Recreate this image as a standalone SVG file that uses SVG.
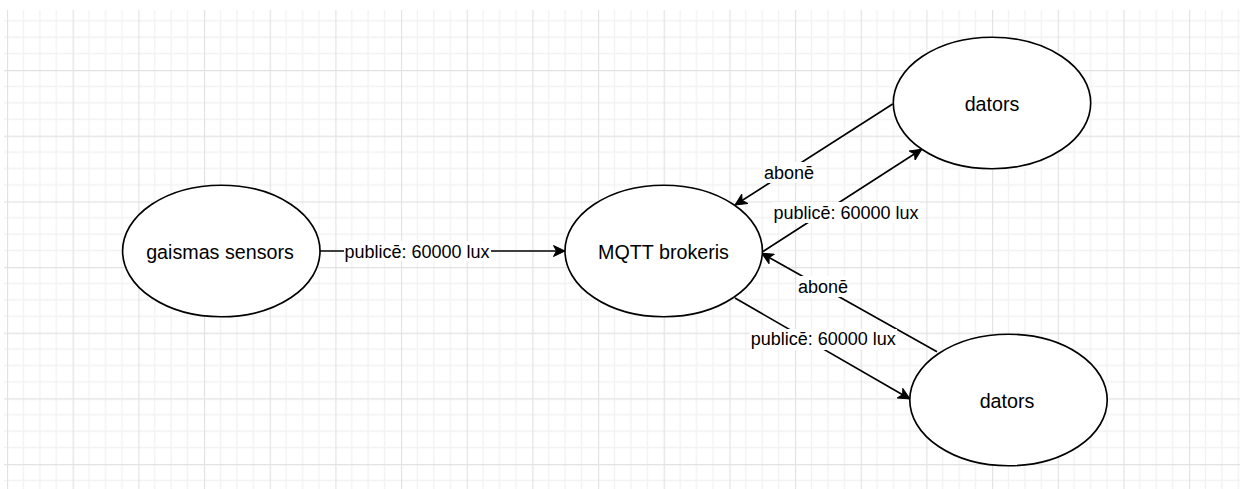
<svg xmlns="http://www.w3.org/2000/svg" width="1240" height="489" viewBox="0 0 1240 489">
  <defs>
    <!-- background grid: minor cells of 16.42px, a major line every 4 cells -->
    <pattern id="grid" patternUnits="userSpaceOnUse" x="7" y="4.33" width="65.67" height="65.67">
      <path d="M16.42 0V65.67M32.83 0V65.67M49.25 0V65.67M0 16.42H65.67M0 32.83H65.67M0 49.25H65.67" stroke="#f2f2f2" stroke-width="1.3" fill="none"/>
      <path d="M0.5 0V65.67M0 0.5H65.67" stroke="#e2e2e2" stroke-width="1.3" fill="none"/>
    </pattern>
    <marker id="arrow" markerUnits="userSpaceOnUse" viewBox="-12 -6 13 12" refX="0" refY="0" markerWidth="13" markerHeight="12" orient="auto">
      <path d="M0 0L-11.5 -5.5L-8.5 0L-11.5 5.5Z" fill="#000" stroke="#000" stroke-width="1"/>
    </marker>
  </defs>
  <style>
    .node ellipse { fill: #fff; stroke: #000; stroke-width: 1.64; }
    .node text { font-family: "Liberation Sans", Arial, sans-serif; font-size: 19.7px; fill: #000; text-anchor: middle; dominant-baseline: central; }
    .edge line { stroke: #000; stroke-width: 1.64; fill: none; }
    .edge .head { marker-end: url(#arrow); }
    .label rect { fill: #fff; }
    .label text { font-family: "Liberation Sans", Arial, sans-serif; font-size: 18px; fill: #000; text-anchor: middle; dominant-baseline: central; }
  </style>

  <rect x="0" y="0" width="1240" height="489" fill="#fff"/>
  <rect x="4" y="10" width="1236" height="479" fill="url(#grid)"/>

  <g id="connectors">
    <!-- sensor -> broker -->
    <g class="edge">
      <line class="head" x1="320" y1="251" x2="565" y2="251"/>
      <g class="label"><rect x="344" y="241" width="147" height="20"/><text x="417" y="251.5">publicē: 60000 lux</text></g>
    </g>
    <!-- upper computer subscribes -->
    <g class="edge">
      <line class="head" x1="892.7" y1="104" x2="735" y2="205"/>
      <g class="label"><rect x="763" y="162" width="52" height="21"/><text x="789" y="172.5">abonē</text></g>
    </g>
    <!-- broker -> upper computer -->
    <g class="edge">
      <line class="head" x1="763" y1="251.5" x2="921.7" y2="149.3"/>
      <g class="label"><rect x="772" y="202" width="148" height="21"/><text x="846" y="212.5">publicē: 60000 lux</text></g>
    </g>
    <!-- lower computer subscribes -->
    <g class="edge">
      <line class="head" x1="937" y1="351.7" x2="761.7" y2="253.3"/>
      <g class="label"><rect x="797" y="276" width="52" height="21"/><text x="823" y="286.5">abonē</text></g>
    </g>
    <!-- broker -> lower computer -->
    <g class="edge">
      <line class="head" x1="735" y1="298" x2="910" y2="399"/>
      <g class="label"><rect x="750" y="329" width="147" height="21"/><text x="823.3" y="339.3">publicē: 60000 lux</text></g>
    </g>
  </g>

  <g id="sensor" class="node">
    <ellipse cx="221.3" cy="251" rx="98.7" ry="65.8"/>
    <text x="220" y="251.5">gaismas sensors</text>
  </g>
  <g id="broker" class="node">
    <ellipse cx="663.7" cy="251" rx="98.7" ry="65.8"/>
    <text x="663.5" y="251.5">MQTT brokeris</text>
  </g>
  <g id="computer-top" class="node">
    <ellipse cx="992" cy="103" rx="98.7" ry="65.8"/>
    <text x="992" y="103.5">dators</text>
  </g>
  <g id="computer-bottom" class="node">
    <ellipse cx="1008.5" cy="400" rx="98.7" ry="65.8"/>
    <text x="1007" y="400.5">dators</text>
  </g>
</svg>
